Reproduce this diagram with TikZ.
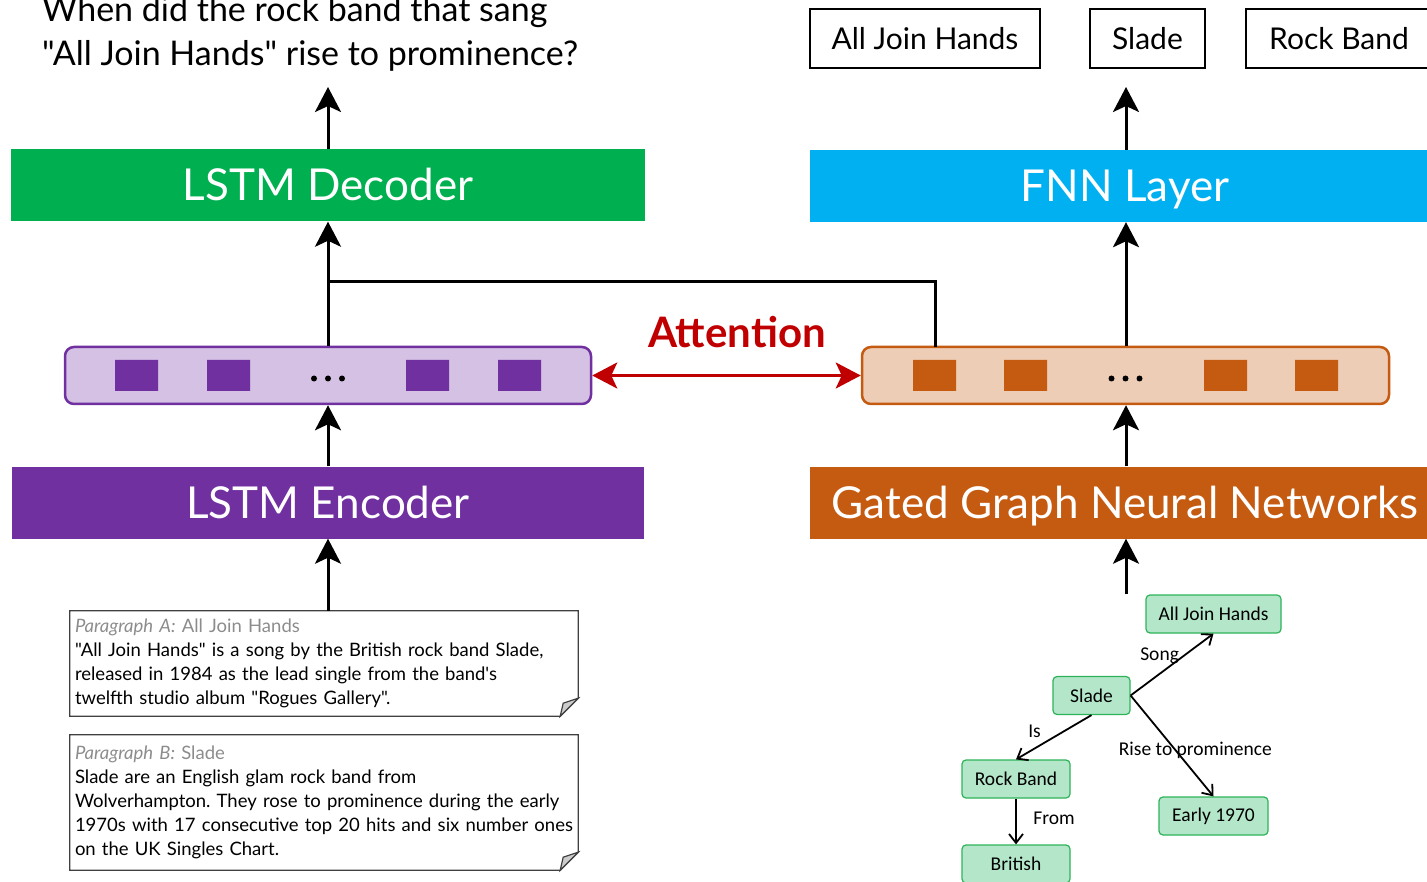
\documentclass[tikz,border=0pt]{standalone}
\usepackage{fontspec}
\setmainfont{Lato}[Ligatures=TeXOff]
\newfontfamily\kgfont{Carlito}[Ligatures=TeXOff]
\usetikzlibrary{arrows.meta,calc}
\frenchspacing

\definecolor{decgreen}{HTML}{00B050}
\definecolor{encpurple}{HTML}{7030A0}
\definecolor{lightpurple}{HTML}{D4C1E3}
\definecolor{fnnblue}{HTML}{00B0F0}
\definecolor{ggnnorange}{HTML}{C55A11}
\definecolor{lightorange}{HTML}{EECDB6}
\definecolor{attred}{HTML}{C00000}
\definecolor{kgfill}{HTML}{B4E7CA}
\definecolor{kgline}{HTML}{2DB357}
\definecolor{paragray}{HTML}{8C8C8C}

\tikzset{
	layer/.style={rectangle, minimum height=72pt, text=white, inner sep=0pt, text height=31pt, text depth=0pt, font=\fontsize{44}{44}\selectfont},
	hidden/.style={rectangle, rounded corners=9pt, line width=2.5pt, minimum width=526pt, minimum height=57pt},
	outbox/.style={rectangle, draw=black, line width=1.3pt, fill=white, minimum height=59pt, inner sep=0pt, font=\fontsize{30}{30}\selectfont},
	uparrow/.style={line width=3pt, -{Stealth[length=25pt,width=26pt,inset=6pt]}},
	kgnode/.style={rectangle, rounded corners=4pt, draw=kgline, line width=1.2pt, fill=kgfill, minimum height=38pt, inner sep=0pt, font=\kgfont\fontsize{19.5}{19.5}\selectfont},
	kgedge/.style={line width=1.8pt, -{Straight Barb[length=9pt,width=14pt]}},
	kglabel/.style={font=\kgfont\fontsize{19.5}{19.5}\selectfont, inner sep=0pt},
	paratext/.style={rectangle, text width=498pt, inner xsep=5pt, inner ysep=0pt, align=left, font=\fontsize{18.5}{24}\selectfont},
	parabox/.style={line width=1.2pt, draw=black!75},
	fold/.style={line width=1.2pt, draw=black!75, fill=black!20},
}

\begin{document}
\begin{tikzpicture}[x=1pt, y=-1pt]
		%%%%% START %%%%%
		\useasboundingbox (0,0) rectangle (1427,882);
		\clip (0,0) rectangle (1427,882);
		
		% question and decoder side
		\node[anchor=base west, align=left, inner sep=0pt, font=\fontsize{34}{44}\selectfont] (question) at (42,66) {When did the rock band that sang\\"All Join Hands" rise to prominence?};
		\coordinate (qfoot) at (328,87);
		\node[layer, fill=decgreen, minimum width=634pt] (dec) at (328,185.5) {LSTM Decoder};
		\node[hidden, draw=encpurple, fill=lightpurple] (phid) at (328,375.5) {};
		\node[layer, fill=encpurple, minimum width=632pt] (enc) at (328,502.5) {LSTM Encoder};
		
		\foreach \dx in {-191.5,-99.5,99.5,191.5}
			\fill[encpurple] ($(phid)+(\dx,0)$) rectangle +(-21.5,-15.5) rectangle +(21.5,15.5);
		\foreach \dx in {-14,0,14}
			\fill ($(phid)+(\dx,3)$) circle (3);
		
		% graph side
		\node[outbox, minimum width=230pt] (oajh) at (925,38.5) {All Join Hands};
		\node[outbox, minimum width=115pt] (oslade) at (1147.5,38.5) {Slade};
		\node[outbox, minimum width=186pt] (orock) at (1339,38.5) {Rock Band};
		\coordinate (ofoot) at (1126,87);
		\node[layer, fill=fnnblue, minimum width=630pt] (fnn) at (1125,186) {FNN Layer};
		\node[hidden, draw=ggnnorange, fill=lightorange, minimum width=527pt] (ohid) at (1125.5,375.5) {};
		\node[layer, fill=ggnnorange, minimum width=630pt] (ggnn) at (1125,502.5) {Gated Graph Neural Networks};
		
		\foreach \dx in {-191,-100,100,191}
			\fill[ggnnorange] ($(ohid)+(\dx,0)$) rectangle +(-21.5,-15.5) rectangle +(21.5,15.5);
		\foreach \dx in {-14,0,14}
			\fill ($(ohid)+(\dx,3)$) circle (3);
		
		% arrows
		\draw[uparrow] (dec.north) -- (qfoot);
		\draw[uparrow] (phid.north) -- (dec.south);
		\draw[uparrow] (enc.north) -- (phid.south);
		\draw[uparrow] (fnn.north -| ofoot) -- (ofoot);
		\draw[uparrow] (ohid.north -| ofoot) -- (fnn.south -| ofoot);
		\draw[uparrow] (ggnn.north -| ofoot) -- (ohid.south -| ofoot);
		
		\coordinate (attjoin) at (328,282);
		\coordinate (attfoot) at (935,347);
		\draw[line width=3pt] (attfoot) |- (attjoin);
		
		\node[text=attred, font=\bfseries\fontsize{42}{42}\selectfont] (att) at (737,332) {Attention};
		\draw[line width=3pt, attred, {Stealth[length=25pt,width=26pt,inset=6pt]}-{Stealth[length=25pt,width=26pt,inset=6pt]}] (phid.east) -- (ohid.west);
		
		% paragraphs
		\node[paratext, minimum height=105pt] (paraA) at (324,663.5) {{\color{paragray}\textit{Paragraph A:} All Join Hands}\\"All Join Hands" is a song by the British rock band Slade,\\released in 1984 as the lead single from the band's\\twelfth studio album "Rogues Gallery".};
		\node[paratext, minimum height=135pt] (paraB) at (324,802.5) {{\color{paragray}\textit{Paragraph B:} Slade}\\Slade are an English glam rock band from\\Wolverhampton. They rose to prominence during the early\\1970s with 17 consecutive top 20 hits and six number ones\\on the UK Singles Chart.};
		\foreach \p in {paraA,paraB} {
			\draw[parabox] (\p.north west) -- (\p.north east) -- ([yshift=18pt]\p.south east) -- ([xshift=-18pt]\p.south east) -- (\p.south west) -- cycle;
			\filldraw[fold] ([yshift=18pt]\p.south east) -- ([xshift=-18pt]\p.south east) -- ([xshift=-15pt,yshift=13pt]\p.south east) -- cycle;
		}
		\draw[uparrow] (enc.south |- paraA.north) -- (enc.south);
		
		% knowledge graph
		\node[kgnode, minimum width=135pt] (kajh) at (1213.5,614) {All Join Hands};
		\node[kgnode, minimum width=77pt] (kslade) at (1091.5,695.5) {Slade};
		\node[kgnode, minimum width=108pt] (krock) at (1016,779) {Rock Band};
		\node[kgnode, minimum width=109pt] (kearly) at (1213.5,816) {Early 1970};
		\node[kgnode, minimum width=108pt] (kbrit) at (1016,864) {British};
		\draw[uparrow] (ofoot |- kajh.north) -- (ggnn.south -| ofoot);
		
		\draw[kgedge] (kslade.east) -- node[kglabel, pos=0.35, yshift=18pt] {Song} (kajh.south);
		\draw[kgedge] (kslade.east) -- node[kglabel, pos=0.54, xshift=20pt] {Rise to prominence} (kearly.north);
		\draw[kgedge] (kslade.south) -- node[kglabel, pos=0.37, xshift=-29pt] {Is} (krock.north);
		\draw[kgedge] (krock.south) -- node[kglabel, pos=0.43, xshift=38pt] {From} (kbrit.north);
		
		%%%%% END %%%%%
	\end{tikzpicture}
\end{document}
